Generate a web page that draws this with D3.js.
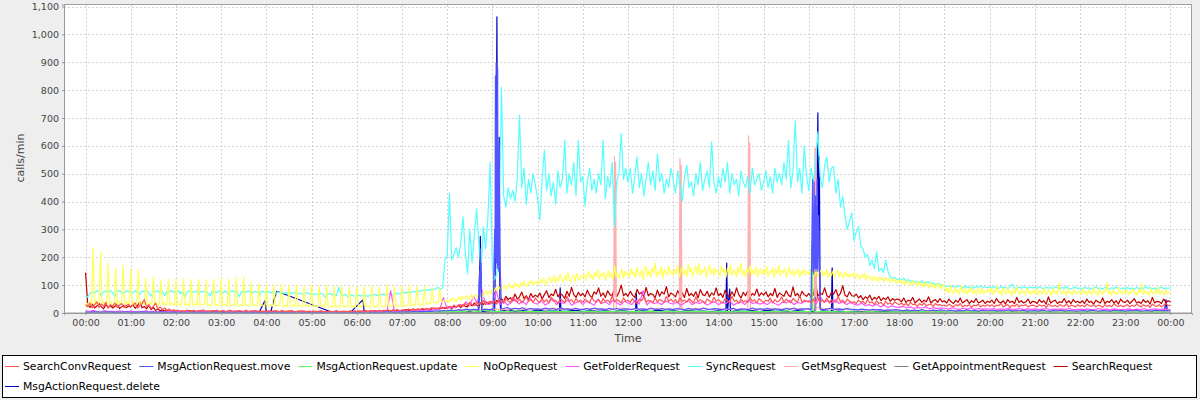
<!DOCTYPE html>
<html><head><meta charset="utf-8">
<script src="https://cdn.jsdelivr.net/npm/d3@7"></script>
<style>html,body{margin:0;padding:0;background:#eeeeee;} svg{display:block;font-family:"DejaVu Sans",sans-serif;}</style>
</head><body><svg id="c" width="1200" height="400"></svg>
<script>
// ---------------- DATA (minutes from 00:00) ----------------
const yTicks = [0,100,200,300,400,500,600,700,800,900,1000,1100];
const xTickLabels = ["00:00","01:00","02:00","03:00","04:00","05:00","06:00","07:00","08:00","09:00","10:00","11:00","12:00","13:00","14:00","15:00","16:00","17:00","18:00","19:00","20:00","21:00","22:00","23:00","00:00"];
const seriesNames = ["SearchConvRequest","MsgActionRequest.move","MsgActionRequest.update","NoOpRequest","GetFolderRequest","SyncRequest","GetMsgRequest","GetAppointmentRequest","SearchRequest","MsgActionRequest.delete"];
const seriesColors = ["#FF5555","#5555FF","#55FF55","#FFFF55","#FF55FF","#55FFFF","#FFAFAF","#808080","#C00000","#0000C0"];

// SyncRequest, one value every 3 minutes
const syncRequest = [
60,57,72,75,70,80,78,62,76,79,74,81,73,58,77,80,75,71,79,76,
78,72,80,75,66,79,77,81,74,60,78,76,80,73,79,62,77,75,81,74,
76,79,70,78,57,77,80,74,76,79,68,78,75,80,73,61,79,76,74,78,
77,73,79,66,76,80,75,78,58,77,79,74,80,76,71,78,75,63,79,76,
74,78,72,77,68,76,73,75,70,74,62,73,71,75,69,72,66,71,73,68,
70,66,69,64,71,68,55,67,70,65,68,62,92,66,64,67,58,65,63,61,
62,64,60,66,63,59,65,62,67,64,61,66,68,63,67,70,65,69,72,68,
70,74,72,76,73,78,75,80,77,82,79,84,81,86,83,88,92,85,90,190,
205,430,190,210,235,200,250,345,220,140,300,180,280,375,250,150,310,230,340,540,
160,120,140,300,810,420,380,450,410,440,400,480,710,450,520,390,480,430,500,460,
410,335,480,585,440,500,420,470,390,510,450,480,620,430,500,460,540,420,620,470,
490,385,470,520,440,480,430,500,460,620,410,490,450,540,310,470,500,645,480,520,
470,520,430,490,560,450,500,420,480,540,460,510,440,570,470,500,430,480,450,520,
480,430,510,460,400,490,530,450,470,420,500,460,540,440,480,510,450,615,470,430,
490,450,520,470,540,430,500,460,480,420,510,470,450,490,430,520,460,480,500,440,
470,510,450,490,430,520,470,500,460,540,480,620,450,510,690,470,520,430,600,490,
440,520,470,540,650,490,450,530,560,470,520,525,430,480,380,420,350,300,330,360,
260,290,311,240,230,200,210,170,190,160,220,150,160,145,190,150,130,125,128,120,
122,118,125,115,120,112,118,110,114,108,116,105,110,112,104,108,100,106,103,98,
100,95,98,92,96,90,99,94,88,97,93,91,96,89,95,92,98,90,94,91,
93,89,96,91,88,95,90,92,86,94,104,90,87,93,89,95,91,88,94,90,
92,88,95,90,86,93,89,91,87,94,90,85,92,88,95,89,86,91,93,87,
90,86,93,88,91,85,89,94,87,90,86,92,88,84,91,87,93,89,86,90,
88,92,86,90,84,93,87,89,85,96,88,91,86,90,84,89,93,87,90,88,
92];

// NoOpRequest, one value every 2 minutes
const noOpRequest = [
20,35,28,40,30,235,32,45,30,38,221,28,42,35,30,179,33,40,27,36,161,30,44,32,38,171,29,41,35,30,
159,30,38,26,40,155,28,35,42,30,125,33,27,39,31,128,29,36,25,34,119,30,38,27,33,122,28,36,31,26,
123,29,34,25,37,124,27,33,30,24,119,31,26,35,28,121,25,32,29,34,119,27,30,24,33,122,28,31,26,29,
125,26,32,28,24,123,30,27,33,25,128,29,24,31,27,128,26,30,23,29,108,27,32,25,28,105,24,30,26,22,
101,27,24,30,25,101,23,28,26,31,104,25,22,29,24,99,27,23,30,25,102,24,28,21,26,98,25,29,23,27,
100,22,27,24,20,97,26,23,28,21,99,24,20,26,23,96,21,25,22,27,98,23,20,25,22,95,24,21,26,20,
97,23,26,21,25,95,22,27,24,20,99,25,21,28,23,94,26,22,25,21,102,24,27,23,26,96,22,28,25,24,
98,27,24,30,26,100,29,25,31,28,97,30,27,33,29,95,34,31,36,33,90,38,35,40,37,88,42,39,45,41,
45,38,50,42,55,47,40,52,58,46,60,50,55,62,48,58,65,52,60,68,55,70,62,75,58,72,80,65,78,70,
85,75,90,80,95,88,78,92,100,85,96,105,90,98,88,110,95,102,92,108,98,115,100,95,112,104,118,100,110,106,
115,102,120,108,125,112,100,122,130,110,118,135,108,126,115,140,120,112,132,118,145,122,110,128,136,115,142,125,118,135,
128,140,118,135,150,125,138,120,145,132,155,122,140,130,148,118,136,152,126,144,120,170,132,146,125,140,158,122,150,135,
145,128,160,138,150,125,165,140,132,155,120,148,170,135,152,128,162,142,180,130,150,138,165,125,158,145,135,168,140,152,
135,158,142,170,128,150,165,138,155,130,175,145,160,132,150,168,140,178,135,155,145,165,128,150,172,140,158,135,162,145,
150,132,168,145,158,128,162,140,175,135,155,148,130,165,142,180,138,152,128,160,145,170,135,155,140,165,130,150,160,138,
155,140,168,132,150,145,162,128,158,140,170,135,152,145,160,130,148,165,138,155,132,150,142,160,128,152,140,158,135,148,
140,155,130,150,135,160,128,145,152,132,148,138,158,125,145,135,150,128,142,155,130,145,138,125,150,132,142,128,138,130,
145,125,140,130,120,138,128,142,118,135,125,130,115,132,122,128,112,130,120,125,110,128,118,122,108,125,115,120,105,118,
112,120,105,118,100,115,108,112,98,116,104,110,95,112,100,108,92,110,98,105,90,108,95,102,88,106,92,100,85,104,
95,75,88,70,100,80,68,92,76,85,65,98,78,72,90,66,84,74,95,70,82,64,88,76,70,92,68,80,74,86,
72,90,66,84,75,98,70,80,64,88,74,68,92,72,78,62,86,70,96,74,66,84,72,78,64,90,70,76,68,82,
70,88,64,80,74,68,92,72,66,84,76,62,90,70,78,66,108,74,68,82,72,64,88,70,76,66,86,72,68,80,
74,66,90,70,78,64,84,72,68,94,70,76,62,88,72,66,80,74,110,68,76,64,86,70,72,66,92,74,68,82,
70,84,66,76,72,90,68,74,64,86,72,105,66,80,70,76,62,88,72,68,84,70,96,66,78,72,64,86,70,74,
72];

// SearchRequest, one value every 3 minutes
const searchRequest = [
145,28,20,32,18,25,35,22,15,30,20,27,18,24,33,16,22,28,19,25,
21,30,17,26,40,19,23,15,28,12,20,9,14,8,11,7,10,6,9,7,
6,8,5,7,4,6,9,5,7,4,6,8,5,6,4,7,5,8,4,6,
5,7,4,6,8,5,4,7,5,6,3,7,5,4,6,8,5,4,6,5,
6,4,7,5,3,6,5,8,4,5,7,4,6,3,5,7,4,6,5,4,
5,3,6,4,7,5,4,6,3,5,4,7,5,3,6,4,5,7,4,6,
5,7,4,6,8,5,7,6,9,5,8,6,10,7,9,6,11,8,10,7,
10,8,12,9,11,14,10,13,9,15,12,16,11,14,18,13,17,15,20,16,
18,22,16,25,20,28,19,30,24,22,33,26,35,28,24,38,30,42,32,36,
40,34,45,38,52,42,60,48,55,44,68,50,58,75,52,62,48,70,56,64,
58,72,50,66,80,55,68,62,85,58,70,64,52,78,60,92,66,56,74,62,
70,58,82,64,55,76,68,90,60,72,56,80,66,62,88,58,74,100,62,70,
60,78,64,56,85,68,74,58,92,62,70,66,54,82,60,76,68,95,58,72,
66,58,80,64,72,56,88,62,70,60,76,54,84,66,62,78,58,72,64,90,
62,70,56,82,64,58,76,60,90,66,54,74,62,80,58,70,64,86,60,72,
64,76,58,70,62,88,56,72,66,60,80,64,58,94,62,70,56,78,66,60,
70,58,64,110,60,72,66,90,62,56,74,68,84,60,70,98,64,58,76,62,
60,68,54,62,48,58,52,64,46,56,50,60,44,54,48,58,42,52,46,50,
48,40,54,38,46,42,56,36,44,50,38,46,40,58,36,44,48,38,52,40,
44,36,50,40,34,46,38,54,36,42,48,34,44,38,52,36,40,46,34,42,
38,46,34,52,40,36,44,32,48,38,42,34,56,38,44,36,40,50,34,42,
40,34,48,38,44,32,58,36,42,46,34,40,38,52,36,44,34,48,38,42,
36,44,34,50,38,42,32,46,40,36,54,34,42,38,48,36,44,32,50,40,
38,46,34,42,52,36,40,34,48,38,44,32,56,36,42,40,34,50,38,44,
40];

// SearchConvRequest, one value every 3 minutes
const searchConvRequest = [
30,22,35,18,28,40,20,32,25,38,17,30,24,36,20,28,34,19,27,31,
22,29,36,18,26,33,48,21,30,16,25,35,14,22,12,18,9,14,8,11,
8,10,6,9,7,11,5,8,10,6,9,7,12,6,8,5,9,7,10,6,
7,9,5,8,10,6,8,5,9,7,6,10,5,8,7,9,6,8,5,7,
6,8,5,7,9,6,5,8,6,7,5,9,6,4,7,5,8,6,5,7,
5,7,4,6,8,5,6,4,7,5,6,8,4,6,5,7,4,6,5,8,
6,5,8,6,7,5,9,6,8,7,10,6,9,8,11,7,10,9,12,8,
10,12,9,14,11,13,10,15,12,17,13,16,14,19,15,18,16,21,17,20,
18,24,20,28,22,26,30,24,34,27,38,30,26,40,32,36,44,30,38,42,
36,44,32,48,40,35,52,42,38,56,44,40,50,36,46,58,42,48,38,54,
44,38,52,40,48,36,56,42,46,34,50,44,38,60,42,48,36,52,40,46,
38,50,42,36,56,44,40,48,34,52,42,46,38,62,40,48,44,36,54,42,
46,38,52,40,34,50,44,58,38,46,42,36,54,40,48,44,38,60,42,50,
40,48,36,54,42,46,38,52,44,36,58,40,48,42,34,50,44,38,56,42,
48,40,36,52,44,38,60,42,46,34,50,40,44,38,56,42,48,36,52,44,
38,46,42,54,36,48,40,44,58,38,50,42,36,52,44,40,62,38,46,42,
44,36,50,42,56,38,46,40,54,36,48,42,38,60,40,46,36,50,42,38,
40,34,46,38,42,32,48,36,40,30,44,34,38,28,42,32,36,30,40,34,
30,36,28,34,26,38,30,32,24,34,28,36,26,30,32,24,34,28,30,26,
28,24,32,26,22,30,26,34,22,28,24,30,20,28,26,32,22,28,24,30,
24,30,22,28,26,34,22,26,30,20,28,24,32,22,28,26,30,22,26,28,
26,22,30,24,28,20,32,26,24,28,22,30,26,24,34,22,28,26,22,30,
24,28,22,32,26,24,30,22,28,26,20,30,24,28,22,34,26,24,28,22,
26,30,22,28,24,32,26,22,30,24,28,20,32,26,24,30,22,28,34,26,
28];

// GetFolderRequest, one value every 5 minutes
const getFolderRequest = [
8,5,10,6,4,9,5,7,4,8,6,5,
7,4,6,5,8,4,6,3,5,4,6,3,
4,5,3,6,4,3,5,4,6,3,4,5,
3,5,4,3,6,4,5,3,4,6,3,4,
5,3,4,6,3,4,5,3,4,3,5,4,
3,4,5,3,4,3,5,4,3,4,5,3,
4,5,3,4,6,4,5,4,6,80,5,6,
6,8,5,9,7,10,8,12,9,14,10,55,
15,22,18,30,25,40,28,60,35,95,40,30,
35,80,30,45,28,38,50,32,42,30,55,36,
32,45,28,38,52,30,40,34,48,28,36,42,
30,44,36,28,50,34,40,30,46,38,28,42,
36,30,48,32,80,28,44,34,38,30,44,36,
32,40,28,36,46,30,38,34,42,28,36,40,
30,38,34,44,28,36,40,30,48,34,38,32,
36,30,42,34,28,40,36,46,30,38,34,42,
40,50,34,60,38,44,36,48,34,40,30,38,
32,28,36,26,30,24,32,22,28,20,26,22,
20,24,18,22,16,20,18,22,15,19,16,18,
17,14,19,15,13,17,14,18,12,16,14,15,
14,16,12,15,13,17,12,14,16,12,15,13,
15,12,14,16,11,14,13,15,12,16,13,12,
14,12,15,11,13,16,12,14,11,15,13,12,
13,15,11,14,12,16,11,13,15,12,14,13,
12];

// MsgActionRequest.move: one value every 5 minutes, plus short bursts [minute, value]
const moveBase = [
3,2,4,3,2,3,4,2,3,2,3,4, 2,3,2,4,3,2,3,2,4,3,2,3,
2,3,2,3,4,2,3,2,3,2,4,3, 2,3,2,3,2,4,3,2,3,2,3,2,
3,2,4,2,3,2,3,2,4,3,2,3, 2,3,2,3,2,3,4,2,3,2,3,2,
3,2,3,4,2,3,2,3,4,3,2,3, 3,4,3,5,4,6,5,7,6,8,7,9,
8,10,9,12,10,14,11,13,12,15,14,12, 14,18,12,16,20,13,17,15,19,12,16,14,
15,12,18,14,16,11,20,13,15,12,17,14, 13,16,12,18,14,15,11,17,13,16,12,15,
14,12,17,13,15,11,18,14,12,16,13,15, 12,16,14,11,17,13,15,12,18,14,13,16,
14,12,16,13,17,11,15,14,12,18,13,15, 13,17,12,15,14,11,16,13,18,12,15,14,
16,13,18,14,12,15,17,13,15,12,16,14, 13,11,14,12,10,13,11,12,9,11,10,12,
10,8,11,9,10,8,12,9,8,10,9,11, 9,8,10,7,9,8,11,8,9,7,10,8,
8,10,7,9,8,11,7,9,8,10,7,8, 9,7,10,8,7,9,8,10,7,9,8,7,
8,9,7,10,8,7,9,8,7,10,8,9, 7,9,8,10,7,8,9,7,10,8,9,8,
8];
const moveSpikes = [[521,10],[523,150],[523.5,60],[524,230],[524.5,90],[525,180],[526,10],
 [541,10],[543,300],[543.5,150],[544,850],[544.5,200],[545,900],[545.5,180],[546,700],[546.5,160],[547,880],[547.5,170],[548,500],[548.5,150],[549,600],[550,200],[552,15],
 [963,10],[965,480],[965.5,150],[966,300],[966.5,140],[967,470],[968,160],[969,420],[969.5,150],[970,380],[970.5,160],[971,480],[972,150],[973,350],[976,10]];

// MsgActionRequest.update: one value every 10 minutes, plus one burst
const updateBase = [
2,1,3,1,2,1, 1,2,1,2,1,1, 1,1,2,1,1,2, 1,2,1,1,2,1, 1,1,2,1,1,1, 2,1,1,2,1,1,
1,2,1,1,2,1, 2,3,2,4,3,5, 4,6,5,8,6,10, 5,7,4,8,6,5, 6,4,7,5,6,4, 5,7,4,6,5,8,
4,6,5,7,4,6, 6,4,7,5,6,4, 5,6,4,7,5,6, 4,6,5,8,4,6, 5,4,6,5,4,5, 4,3,5,4,3,4,
3,4,3,5,3,4, 4,3,4,3,5,3, 3,4,3,4,3,4, 4,3,5,3,4,3, 3,4,3,4,3,5, 4,3,4,3,4,3,
3];
const updateSpikes = [[963,5],[963.7,251],[964.3,240],[965,8]];

// GetMsgRequest: one value every 10 minutes, plus bursts
const getMsgBase = [
3,2,3,2,2,3, 2,2,3,2,2,2, 2,3,2,2,2,3, 2,2,2,3,2,2, 2,2,3,2,2,2, 2,3,2,2,3,2,
2,2,3,2,2,3, 3,4,3,5,4,6, 6,8,7,10,9,12, 12,15,11,16,13,14, 15,12,18,14,16,13, 14,17,13,15,12,18,
15,13,16,14,17,12, 14,18,13,15,16,12, 16,13,15,12,17,14, 13,16,12,18,14,15, 14,12,16,13,15,12, 12,10,11,9,10,8,
8,9,7,8,6,8, 7,6,8,6,7,5, 6,7,5,6,5,7, 5,6,5,7,5,6, 6,5,7,5,6,5, 5,6,5,6,7,5,
5];
const getMsgSpikes = [[701,15],[702,561],[702.8,60],[703.6,540],[704.5,15],
 [788,15],[789,555],[789.8,60],[790.6,530],[791.5,15],
 [879,15],[880,636],[880.8,60],[881.6,610],[882.5,15],
 [967,15],[968,590],[968.8,60],[969.6,597],[970.5,20]];

// GetAppointmentRequest, one value every 10 minutes
const getAppointmentRequest = [
1,0,1,0,1,0, 0,1,0,0,1,0, 0,0,1,0,0,1, 0,1,0,0,0,1, 0,0,1,0,0,0, 1,0,0,1,0,0,
0,1,0,0,1,0, 1,0,1,2,1,1, 2,1,3,2,1,2, 2,3,1,2,3,2, 2,1,3,2,2,1, 3,2,1,2,3,1,
2,3,1,2,2,3, 1,2,3,2,1,2, 3,2,1,2,3,2, 2,1,2,3,1,2, 1,2,1,2,1,1, 1,2,1,1,2,1,
1,1,2,1,1,1, 1,2,1,1,1,2, 1,1,1,2,1,1, 2,1,1,1,2,1, 1,1,2,1,1,1, 1,2,1,1,1,1,
1];

// MsgActionRequest.delete: sparse samples [minute, value]
const deletePoints = [
[0,2],[17,3],[95,2],[230,0],[238,44],[240,2],[246,5],[250,48],[254,78],[328,2],[352,3],[368,47],[370,2],
[420,3],[450,5],[470,2],[480,6],[490,4],[500,8],[510,5],[515,10],[522,5],[524,275],[525,120],[526,5],
[535,8],[543,5],[545,400],[546,1063],[547,250],[549,630],[550,60],[551,5],[560,12],[570,6],[580,9],[590,5],
[600,10],[610,6],[620,8],[629,5],[630,90],[631,6],[640,7],[650,10],[660,5],[670,9],[680,6],[690,8],[700,5],
[710,9],[720,6],[730,5],[731,72],[732,6],[740,8],[750,5],[760,10],[770,6],[780,8],[790,5],[800,9],[810,6],
[820,7],[830,5],[840,8],[850,5],[851,179],[852,5],[855,86],[856,5],[865,8],[875,6],[885,9],[895,5],[905,10],
[915,6],[925,8],[935,5],[945,9],[955,6],[965,5],[968,5],[970,250],[972,718],[973,300],[974,560],[975,20],
[980,8],[990,5],[991,162],[992,5],[1000,7],[1010,5],[1020,6],[1040,4],[1060,5],[1080,3],[1100,5],[1120,3],
[1140,4],[1160,3],[1180,5],[1200,3],[1220,4],[1240,3],[1260,5],[1280,3],[1300,4],[1320,3],[1340,4],[1360,3],
[1380,5],[1400,3],[1420,4],[1432,3],[1434,47],[1436,3],[1440,3]];

// ---------------- BUILD ----------------
function uniform(values, step) { return values.map((v, i) => [i * step, v]); }
function merge(base, extra) {
  const m = new Map(base.map(p => [p[0], p[1]]));
  extra.forEach(p => m.set(p[0], p[1]));
  return Array.from(m.entries()).sort((a, b) => a[0] - b[0]);
}
const seriesPoints = [
  uniform(searchConvRequest, 3),
  merge(uniform(moveBase, 5), moveSpikes),
  merge(uniform(updateBase, 10), updateSpikes),
  uniform(noOpRequest, 2),
  uniform(getFolderRequest, 5),
  uniform(syncRequest, 3),
  merge(uniform(getMsgBase, 10), getMsgSpikes),
  uniform(getAppointmentRequest, 10),
  uniform(searchRequest, 3),
  deletePoints
];

const svg = d3.select("#c");
svg.append("rect").attr("width", 1200).attr("height", 400).attr("fill", "#eeeeee");

const L = 64, R = 1192, T = 4.5, B = 313;
const x = d3.scaleLinear().domain([-28.6, 1468.6]).range([L, R]);
const y = d3.scaleLinear().domain([0, 1107.2]).range([B, T]);

svg.append("rect").attr("x", L).attr("y", T).attr("width", R - L).attr("height", B - T).attr("fill", "#ffffff");

const tickMinutes = xTickLabels.map((d, i) => i * 60);
// grid
const grid = svg.append("g").attr("stroke", "#d4d4d4").attr("stroke-width", 1).attr("stroke-dasharray", "2,2").attr("shape-rendering", "crispEdges");
tickMinutes.forEach(m => grid.append("line").attr("x1", Math.round(x(m)) + 0.5).attr("x2", Math.round(x(m)) + 0.5).attr("y1", T).attr("y2", B));
yTicks.forEach(v => { if (v > 0) grid.append("line").attr("x1", L).attr("x2", R).attr("y1", Math.round(y(v)) + 0.5).attr("y2", Math.round(y(v)) + 0.5); });

// series (reverse order so the first series is on top)
svg.append("clipPath").attr("id", "pc").append("rect").attr("x", L).attr("y", T).attr("width", R - L).attr("height", B - T);
const lineGen = d3.line().x(d => x(d[0])).y(d => y(d[1]));
const gSeries = svg.append("g").attr("clip-path", "url(#pc)");
for (let i = seriesPoints.length - 1; i >= 0; i--) {
  gSeries.append("path").datum(seriesPoints[i]).attr("d", lineGen)
    .attr("fill", "none").attr("stroke", seriesColors[i]).attr("stroke-width", 1.2).attr("stroke-linejoin", "round");
}

// outline
svg.append("rect").attr("x", L + 0.5).attr("y", T).attr("width", R - L - 1).attr("height", B - T)
  .attr("fill", "none").attr("stroke", "#a0a0a0").attr("stroke-width", 1);

// axes
const yAxis = d3.axisLeft(y).tickValues(yTicks).tickSize(2).tickPadding(3).tickFormat(d3.format(","));
const gy = svg.append("g").attr("transform", `translate(${L},0)`).call(yAxis);
const xAxis = d3.axisBottom(x).tickValues(tickMinutes).tickSize(2).tickPadding(4).tickFormat((d, i) => xTickLabels[i]);
const gx = svg.append("g").attr("transform", `translate(0,${B})`).call(xAxis);
[gy, gx].forEach(g => {
  g.select(".domain").attr("stroke", "#999999");
  g.selectAll(".tick line").attr("stroke", "#999999");
  g.selectAll(".tick text").attr("fill", "#444444").attr("font-size", "9.5px").attr("font-family", "DejaVu Sans");
});

svg.append("text").attr("transform", "translate(23.5,158) rotate(-90)").attr("text-anchor", "middle")
  .attr("font-size", "11px").attr("fill", "#444444").text("calls/min");
svg.append("text").attr("x", 628).attr("y", 342).attr("text-anchor", "middle")
  .attr("font-size", "11px").attr("fill", "#444444").text("Time");

// legend
const lg = svg.append("g");
lg.append("rect").attr("x", 2.5).attr("y", 355.5).attr("width", 1194).attr("height", 42).attr("fill", "#ffffff").attr("stroke", "#000000");
let lx = 5, row = 0;
const rowY = [366, 386];
seriesNames.forEach((name, i) => {
  const t = lg.append("text").attr("font-size", "10.8px").attr("fill", "#000").attr("dominant-baseline", "central").text(name);
  const w = t.node().getComputedTextLength();
  if (lx + 18 + w > 1194) { row++; lx = 5; }
  lg.append("line").attr("x1", lx).attr("x2", lx + 14).attr("y1", rowY[row] + 0.5).attr("y2", rowY[row] + 0.5).attr("stroke", seriesColors[i]).attr("stroke-width", 1);
  t.attr("x", lx + 18).attr("y", rowY[row]);
  lx += 18 + w + 8;
});
</script></body></html>
